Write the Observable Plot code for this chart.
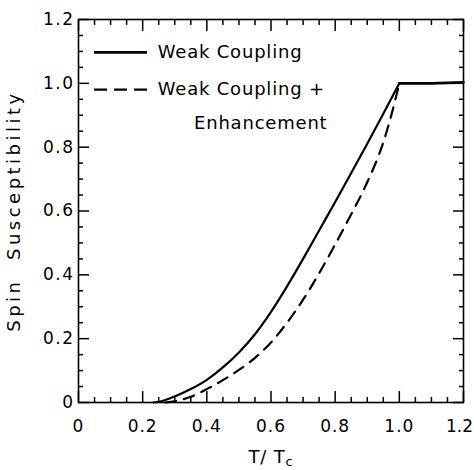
<!DOCTYPE html>
<html>
<head>
<meta charset="utf-8">
<script src="https://cdn.jsdelivr.net/npm/d3@7"></script>
<script src="https://cdn.jsdelivr.net/npm/@observablehq/plot@0.6"></script>
<style>
  html, body { margin: 0; padding: 0; background: #fff; overflow: hidden; }
</style>
</head>
<body>
<div id="chart"></div>
<script>
// Weak coupling (solid), below Tc
const tWeak   = [0.234, 0.25, 0.30, 0.35, 0.40, 0.45, 0.50, 0.55, 0.60, 0.65, 0.70, 0.75, 0.80, 0.85, 0.90, 0.95, 1.00];
const chiWeak = [0.000, 0.002, 0.019, 0.042, 0.071, 0.110, 0.157, 0.214, 0.284, 0.364, 0.450, 0.539, 0.628, 0.719, 0.811, 0.905, 1.000];
// Normal state (solid), above Tc
const tNormal   = [1.00, 1.10, 1.20];
const chiNormal = [1.000, 1.000, 1.003];
// Weak coupling + enhancement (dashed)
const tEnh   = [0.27, 0.30, 0.35, 0.40, 0.45, 0.50, 0.55, 0.60, 0.65, 0.70, 0.75, 0.80, 0.85, 0.90, 0.95, 0.975, 1.00];
const chiEnh = [0.000, 0.004, 0.018, 0.042, 0.070, 0.102, 0.140, 0.188, 0.250, 0.322, 0.405, 0.495, 0.590, 0.690, 0.815, 0.900, 1.000];

const majorTicks = [0, 0.2, 0.4, 0.6, 0.8, 1.0, 1.2];
const minorTicks = [0.05, 0.1, 0.15, 0.25, 0.3, 0.35, 0.45, 0.5, 0.55, 0.65, 0.7, 0.75, 0.85, 0.9, 0.95, 1.05, 1.1, 1.15];
const xTickLabels = ["0", "0.2", "0.4", "0.6", "0.8", "1.0", "1.2"];
const yTickLabels = ["0", "0.2", "0.4", "0.6", "0.8", "1.0", "1.2"];

const legendLabels = ["Weak Coupling", "Weak Coupling +", "Enhancement"];
const legendLineX = [0.05, 0.215];
const legendLineY = [1.097, 0.98];
const legendTextX = [0.247, 0.247, 0.36];
const legendTextY = [1.097, 0.98, 0.875];

const weak = tWeak.map((t, i) => ({t, chi: chiWeak[i]}));
const normal = tNormal.map((t, i) => ({t, chi: chiNormal[i]}));
const enh = tEnh.map((t, i) => ({t, chi: chiEnh[i]}));

const font = "DejaVu Sans, sans-serif";
const fmtX = d => xTickLabels[majorTicks.indexOf(d)];
const fmtY = d => yTickLabels[majorTicks.indexOf(d)];

const plot = Plot.plot({
  width: 474,
  height: 470,
  marginLeft: 78,
  marginRight: 11,
  marginTop: 19,
  marginBottom: 68,
  style: {fontFamily: font, fontSize: "16px", color: "#000", background: "#fff"},
  x: {domain: [0, 1.2]},
  y: {domain: [0, 1.2]},
  marks: [
    Plot.frame({stroke: "#000", strokeWidth: 1.6}),
    // tick labels
    Plot.axisX(majorTicks, {anchor: "bottom", tickSize: 0, tickPadding: 17, tickFormat: fmtX, fontSize: 17, label: null}),
    Plot.axisY(majorTicks, {anchor: "left", tickSize: 0, tickPadding: 4, tickFormat: fmtY, fontSize: 17, label: null}),
    // inward ticks
    Plot.axisX(majorTicks, {anchor: "bottom", tickSize: -11, text: null, label: null, strokeWidth: 1.5}),
    Plot.axisX(minorTicks, {anchor: "bottom", tickSize: -5, text: null, label: null, strokeWidth: 1.5}),
    Plot.axisX(majorTicks, {anchor: "top", tickSize: -11, text: null, label: null, strokeWidth: 1.5}),
    Plot.axisX(minorTicks, {anchor: "top", tickSize: -5, text: null, label: null, strokeWidth: 1.5}),
    Plot.axisY(majorTicks, {anchor: "left", tickSize: -11, text: null, label: null, strokeWidth: 1.5}),
    Plot.axisY(minorTicks, {anchor: "left", tickSize: -5, text: null, label: null, strokeWidth: 1.5}),
    Plot.axisY(majorTicks, {anchor: "right", tickSize: -11, text: null, label: null, strokeWidth: 1.5}),
    Plot.axisY(minorTicks, {anchor: "right", tickSize: -5, text: null, label: null, strokeWidth: 1.5}),
    // curves
    Plot.line(weak, {x: "t", y: "chi", stroke: "#000", strokeWidth: 2.2, curve: "monotone-x"}),
    Plot.line(normal, {x: "t", y: "chi", stroke: "#000", strokeWidth: 2.6}),
    Plot.line(enh, {x: "t", y: "chi", stroke: "#000", strokeWidth: 2.2, strokeDasharray: "11,8", curve: "monotone-x"}),
    // legend
    Plot.ruleY([legendLineY[0]], {x1: legendLineX[0], x2: legendLineX[1], stroke: "#000", strokeWidth: 2.6}),
    Plot.ruleY([legendLineY[1]], {x1: legendLineX[0], x2: legendLineX[1], stroke: "#000", strokeWidth: 2.2, strokeDasharray: "13,7"}),
    Plot.text(legendLabels, {x: (d, i) => legendTextX[i], y: (d, i) => legendTextY[i], text: d => d, textAnchor: "start", fontSize: 18, fill: "#000"}),
    // axis labels
    Plot.text(["Spin  Susceptibility"], {frameAnchor: "left", textAnchor: "middle", dx: -64, rotate: -90, fontSize: 18, fill: "#000"}),
    Plot.text(["T/Tc"], {frameAnchor: "bottom", textAnchor: "middle", dy: 60, fontSize: 18, fill: "#000"})
  ]
});

const svg = d3.select(plot);
svg.selectAll("text").style("letter-spacing", "0.8px");
svg.selectAll("[aria-label='y-axis tick label'] text").style("letter-spacing", "1.5px");
svg.selectAll("[aria-label='x-axis tick label'] text").style("letter-spacing", "1px");
svg.selectAll("[aria-label='x-axis tick label'] text").filter(function() { return this.textContent === "1.2"; })
  .style("letter-spacing", "0px").attr("dx", -4);
svg.selectAll("text").filter(function() { return this.textContent === "Spin  Susceptibility"; })
  .style("letter-spacing", "3.5px").style("white-space", "pre");
svg.selectAll("text").filter(function() { return this.textContent === "T/Tc"; })
  .each(function() {
    const s = d3.select(this);
    s.text("");
    s.append("tspan").text("T/ T");
    s.append("tspan").attr("dy", "0.3em").attr("font-size", "13").text("c");
  });

document.getElementById("chart").appendChild(plot);
</script>
</body>
</html>
